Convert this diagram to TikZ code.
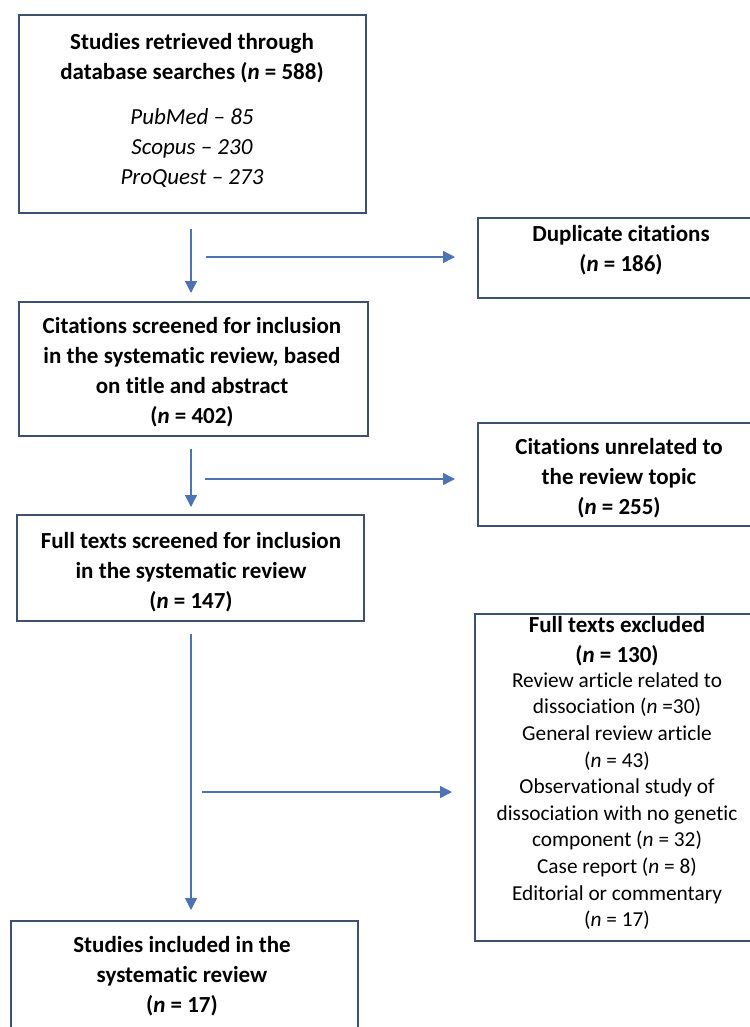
\documentclass[tikz,border=0pt]{standalone}
\usepackage{fontspec}
\setmainfont{Carlito}[Ligatures=NoCommon]
\usetikzlibrary{arrows.meta}
\definecolor{boxline}{RGB}{62,80,112}
\definecolor{arrowc}{RGB}{78,114,182}
\tikzset{
  boxshape/.style={draw=boxline, line width=2.2pt, fill=white},
  bigtext/.style={align=center, font=\bfseries\fontsize{23}{30}\selectfont, inner sep=0pt},
  itext/.style={align=center, font=\itshape\fontsize{23}{30}\selectfont, inner sep=0pt},
  smalltext/.style={align=center, font=\fontsize{21.3}{26.6}\selectfont, inner sep=0pt},
  flowarrow/.style={draw=arrowc, line width=1.4pt, -{Triangle[length=12pt,width=12pt]}}
}
\begin{document}
\begin{tikzpicture}[x=1pt,y=-1pt]
\useasboundingbox (0,0) rectangle (749,1027);
% boxes
\node[boxshape, minimum width=347pt, minimum height=198pt, anchor=north west] (b1) at (18,14) {};
\node[boxshape, minimum width=283pt, minimum height=80pt, anchor=north west] (dup) at (477,217) {};
\node[boxshape, minimum width=349pt, minimum height=134pt, anchor=north west] (b2) at (18,301) {};
\node[boxshape, minimum width=283pt, minimum height=103pt, anchor=north west] (unrel) at (477,422) {};
\node[boxshape, minimum width=347pt, minimum height=106pt, anchor=north west] (b3) at (16,514) {};
\node[boxshape, minimum width=286pt, minimum height=327pt, anchor=north west] (excl) at (474,613) {};
\node[boxshape, minimum width=347pt, minimum height=130pt, anchor=north west] (b4) at (10,920) {};
% texts
\node[bigtext] (t1) at (192,58) {Studies retrieved through\\database searches (\textit{n} = 588)};
\node[itext] (t1b) at (192,148) {PubMed -- 85\\Scopus -- 230\\ProQuest -- 273};
\node[bigtext] (tdup) at (621,250) {Duplicate citations\\(\textit{n} = 186)};
\node[bigtext] (t2) at (192,372) {Citations screened for inclusion\\in the systematic review, based\\on title and abstract\\(\textit{n} = 402)};
\node[bigtext] (tunrel) at (619,478) {Citations unrelated to\\the review topic\\(\textit{n} = 255)};
\node[bigtext] (t3) at (191,572) {Full texts screened for inclusion\\in the systematic review\\(\textit{n} = 147)};
\node[bigtext] (texcl) at (617,641) {Full texts excluded\\(\textit{n} = 130)};
\node[smalltext] (texcl2) at (617,801) {Review article related to\\dissociation (\textit{n} =30)\\General review article\\(\textit{n} = 43)\\Observational study of\\dissociation with no genetic\\component (\textit{n} = 32)\\Case report (\textit{n} = 8)\\Editorial or commentary\\(\textit{n} = 17)};
\node[bigtext] (t4) at (182,976) {Studies included in the\\systematic review\\(\textit{n} = 17)};
% arrow start points
\coordinate (h1) at (206,257);
\coordinate (h2) at (205,479);
\coordinate (h3) at (202,792);
% vertical arrows
\draw[flowarrow, shorten <=15pt, shorten >=8pt] (b1.south -| 191,0) -- (b2.north -| 191,0);
\draw[flowarrow, shorten <=12pt, shorten >=7pt] (b2.south -| 191,0) -- (b3.north -| 191,0);
\draw[flowarrow, shorten <=12pt, shorten >=10pt] (b3.south -| 191,0) -- (b4.north -| 191,0);
% horizontal arrows
\draw[flowarrow, shorten >=22pt] (h1) -- (h1 -| dup.west);
\draw[flowarrow, shorten >=22pt] (h2) -- (h2 -| unrel.west);
\draw[flowarrow, shorten >=22pt] (h3) -- (h3 -| excl.west);
\end{tikzpicture}
\end{document}
